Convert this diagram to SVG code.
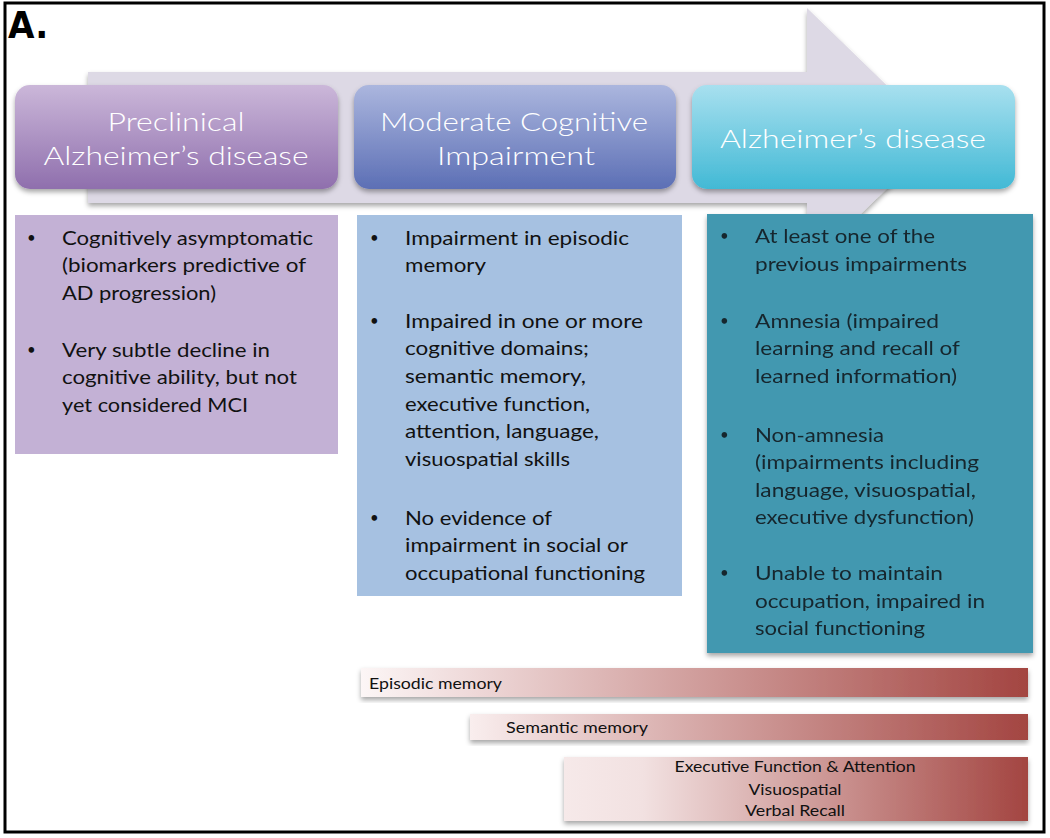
<svg xmlns="http://www.w3.org/2000/svg" width="1050" height="838" viewBox="0 0 1050 838">
<defs>
<style>
.title{font-family:Lato,"Open Sans","DejaVu Sans",sans-serif;font-size:26px;font-weight:300;fill:#ffffff;text-anchor:middle}
.body{font-family:Lato,"Open Sans","DejaVu Sans",sans-serif;font-size:20px;fill:#111111}
.bul{font-size:15px}
.teal{fill:#16262d}
.bar{font-family:Lato,"Open Sans","DejaVu Sans",sans-serif;font-size:15px;fill:#111111}
</style>
<linearGradient id="gPurple" x1="0" y1="0" x2="0" y2="1"><stop offset="0" stop-color="#cbb7d9"/><stop offset="1" stop-color="#8f6fad"/></linearGradient>
<linearGradient id="gBlue" x1="0" y1="0" x2="0" y2="1"><stop offset="0" stop-color="#abb6de"/><stop offset="1" stop-color="#5c6fb5"/></linearGradient>
<linearGradient id="gCyan" x1="0" y1="0" x2="0" y2="1"><stop offset="0" stop-color="#a8e0ef"/><stop offset="1" stop-color="#42b9d5"/></linearGradient>
<linearGradient id="gBar1" x1="0" y1="0" x2="1" y2="0"><stop offset="0" stop-color="#fcf6f6"/><stop offset="0.15" stop-color="#f0dcdc"/><stop offset="1" stop-color="#a34541"/></linearGradient>
<linearGradient id="gBar2" x1="0" y1="0" x2="1" y2="0"><stop offset="0" stop-color="#f9eeee"/><stop offset="0.1" stop-color="#f0dcdc"/><stop offset="1" stop-color="#a34541"/></linearGradient>
<linearGradient id="gBar3" x1="0" y1="0" x2="1" y2="0"><stop offset="0" stop-color="#f6e9e9"/><stop offset="0.17" stop-color="#f2e1e1"/><stop offset="1" stop-color="#a34541"/></linearGradient>
<filter id="shadow" x="-5%" y="-10%" width="110%" height="130%"><feDropShadow dx="0" dy="3" stdDeviation="2.5" flood-color="#000" flood-opacity="0.35"/></filter>
<filter id="soft" x="-2%" y="-2%" width="104%" height="104%"><feGaussianBlur stdDeviation="0.5"/></filter>
</defs>
<rect x="0" y="0" width="1050" height="838" fill="#ffffff"/>
<rect x="5" y="3" width="1039" height="829" fill="#ffffff" stroke="#000000" stroke-width="3"/>
<text x="8" y="38" font-family="'DejaVu Sans Condensed','Liberation Sans',Arial,sans-serif" font-stretch="condensed" font-weight="bold" font-size="38" fill="#000">A.</text>

<g id="connectors">
<g id="progression-arrow" filter="url(#shadow)">
<polygon points="88,72 807,72 807,8 940,137 807,266 807,203 88,203" fill="#ddd9e5"/>
</g>
</g>

<g id="stage-preclinical">
<rect x="15" y="85" width="323" height="104" rx="15" fill="url(#gPurple)" filter="url(#shadow)"/>
<text class="title" x="176" y="131" textLength="137" lengthAdjust="spacingAndGlyphs">Preclinical</text>
<text class="title" x="176" y="165" textLength="265" lengthAdjust="spacingAndGlyphs">Alzheimer’s disease</text>
</g>
<g id="stage-mci">
<rect x="354" y="85" width="322" height="104" rx="15" fill="url(#gBlue)" filter="url(#shadow)"/>
<text class="title" x="514" y="131" textLength="268" lengthAdjust="spacingAndGlyphs">Moderate Cognitive</text>
<text class="title" x="516" y="165" textLength="158" lengthAdjust="spacingAndGlyphs">Impairment</text>
</g>
<g id="stage-ad">
<rect x="692" y="85" width="323" height="104" rx="15" fill="url(#gCyan)" filter="url(#shadow)"/>
<text class="title" x="853" y="148" textLength="266" lengthAdjust="spacingAndGlyphs">Alzheimer’s disease</text>
</g>

<g id="box-preclinical">
<rect x="15" y="215" width="323" height="239" fill="#c3b1d5"/>
<g class="body">
<text class="bul" x="27" y="243">•</text><text x="62" y="245" textLength="251" lengthAdjust="spacingAndGlyphs">Cognitively asymptomatic</text>
<text x="62" y="272" textLength="244" lengthAdjust="spacingAndGlyphs">(biomarkers predictive of</text>
<text x="62" y="300" textLength="154" lengthAdjust="spacingAndGlyphs">AD progression)</text>
<text class="bul" x="27" y="355">•</text><text x="62" y="357" textLength="208" lengthAdjust="spacingAndGlyphs">Very subtle decline in</text>
<text x="62" y="384" textLength="235" lengthAdjust="spacingAndGlyphs">cognitive ability, but not</text>
<text x="62" y="412" textLength="186" lengthAdjust="spacingAndGlyphs">yet considered MCI</text>
</g>
</g>

<g id="box-mci">
<rect x="357" y="215" width="325" height="381" fill="#a6c1e1"/>
<g class="body">
<text class="bul" x="370" y="243">•</text><text x="405" y="245" textLength="224" lengthAdjust="spacingAndGlyphs">Impairment in episodic</text>
<text x="405" y="272" textLength="81" lengthAdjust="spacingAndGlyphs">memory</text>
<text class="bul" x="370" y="326">•</text><text x="405" y="328" textLength="238" lengthAdjust="spacingAndGlyphs">Impaired in one or more</text>
<text x="405" y="355" textLength="184" lengthAdjust="spacingAndGlyphs">cognitive domains;</text>
<text x="405" y="383" textLength="181" lengthAdjust="spacingAndGlyphs">semantic memory,</text>
<text x="405" y="411" textLength="185" lengthAdjust="spacingAndGlyphs">executive function,</text>
<text x="405" y="438" textLength="194" lengthAdjust="spacingAndGlyphs">attention, language,</text>
<text x="405" y="466" textLength="165" lengthAdjust="spacingAndGlyphs">visuospatial skills</text>
<text class="bul" x="370" y="523">•</text><text x="405" y="525" textLength="147" lengthAdjust="spacingAndGlyphs">No evidence of</text>
<text x="405" y="552" textLength="223" lengthAdjust="spacingAndGlyphs">impairment in social or</text>
<text x="405" y="580" textLength="240" lengthAdjust="spacingAndGlyphs">occupational functioning</text>
</g>
</g>

<g id="box-ad">
<rect x="707" y="214" width="326" height="439" fill="#4398b0" filter="url(#shadow)"/>
<g class="body teal" filter="url(#soft)">
<text class="bul" x="720" y="241">•</text><text x="755" y="243" textLength="180" lengthAdjust="spacingAndGlyphs">At least one of the</text>
<text x="755" y="271" textLength="212" lengthAdjust="spacingAndGlyphs">previous impairments</text>
<text class="bul" x="720" y="326">•</text><text x="755" y="328" textLength="184" lengthAdjust="spacingAndGlyphs">Amnesia (impaired</text>
<text x="755" y="355" textLength="205" lengthAdjust="spacingAndGlyphs">learning and recall of</text>
<text x="755" y="383" textLength="202" lengthAdjust="spacingAndGlyphs">learned information)</text>
<text class="bul" x="720" y="440">•</text><text x="755" y="442" textLength="129" lengthAdjust="spacingAndGlyphs">Non-amnesia</text>
<text x="755" y="469" textLength="224" lengthAdjust="spacingAndGlyphs">(impairments including</text>
<text x="755" y="497" textLength="221" lengthAdjust="spacingAndGlyphs">language, visuospatial,</text>
<text x="755" y="524" textLength="219" lengthAdjust="spacingAndGlyphs">executive dysfunction)</text>
<text class="bul" x="720" y="578">•</text><text x="755" y="580" textLength="188" lengthAdjust="spacingAndGlyphs">Unable to maintain</text>
<text x="755" y="608" textLength="230" lengthAdjust="spacingAndGlyphs">occupation, impaired in</text>
<text x="755" y="635" textLength="170" lengthAdjust="spacingAndGlyphs">social functioning</text>
</g>
</g>

<g id="bar-episodic">
<rect x="361" y="668" width="667" height="29" fill="url(#gBar1)" filter="url(#shadow)"/>
<text class="bar" x="369" y="689" textLength="133" lengthAdjust="spacingAndGlyphs">Episodic memory</text>
</g>
<g id="bar-semantic">
<rect x="470" y="714" width="558" height="26" fill="url(#gBar2)" filter="url(#shadow)"/>
<text class="bar" x="506" y="733" textLength="142" lengthAdjust="spacingAndGlyphs">Semantic memory</text>
</g>
<g id="bar-executive">
<rect x="564" y="757" width="464" height="64" fill="url(#gBar3)" filter="url(#shadow)"/>
<text class="bar" x="795" y="772" text-anchor="middle" textLength="241" lengthAdjust="spacingAndGlyphs">Executive Function &amp; Attention</text>
<text class="bar" x="795" y="795" text-anchor="middle" textLength="93" lengthAdjust="spacingAndGlyphs">Visuospatial</text>
<text class="bar" x="795" y="816" text-anchor="middle" textLength="100" lengthAdjust="spacingAndGlyphs">Verbal Recall</text>
</g>
</svg>
